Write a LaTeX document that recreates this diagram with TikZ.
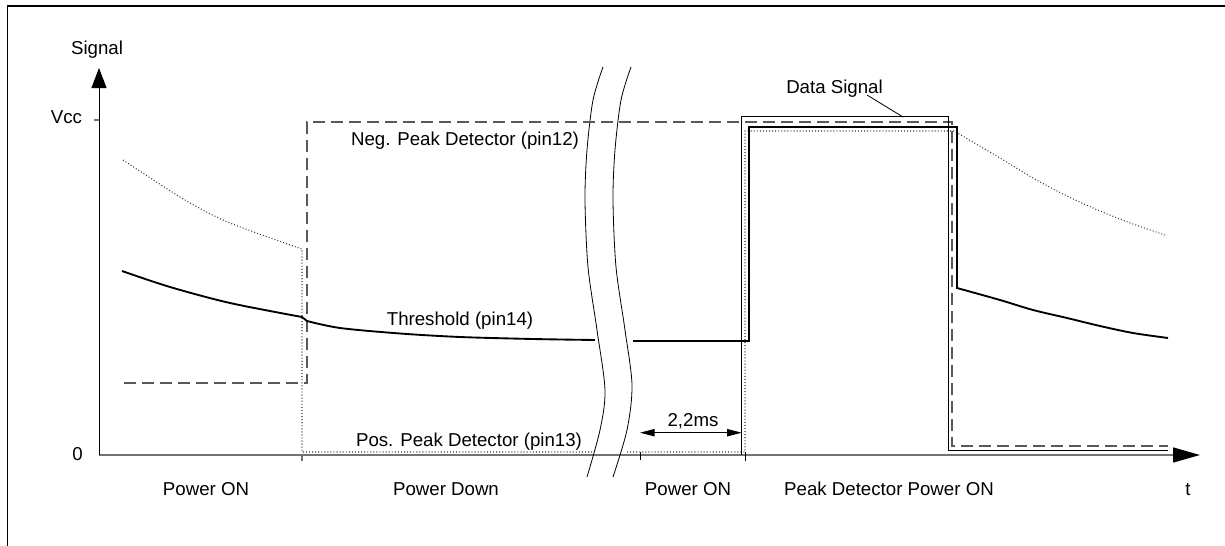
\documentclass[tikz,border=0pt]{standalone}
\usepackage{fontspec}
\setmainfont{Liberation Sans}
\usetikzlibrary{arrows.meta}
\begin{document}
\begin{tikzpicture}[x=0.75pt,y=-0.75pt,
  lbl/.style={font=\fontsize{14}{16}\selectfont, inner sep=0pt, anchor=base},
  thresh/.style={line width=1.4pt, black, line join=miter},
  negpk/.style={line width=0.8pt, color=black!65, dash pattern=on 9pt off 4.5pt},
  pospk/.style={line width=0.8pt, color=black!80, dash pattern=on 0.7pt off 1.6pt},
  datasig/.style={line width=0.6pt, black},
  axisx/.style={line width=1.1pt, color=black!55},
  brk/.style={line width=0.6pt, black},
  tick/.style={line width=0.6pt, black},
  frame/.style={line width=1pt, black}
]
\useasboundingbox (0,0) rectangle (1225,546);
% frame
\draw[frame] (7.5,546) -- (7.5,6) -- (1225,6);

% axes
\coordinate (o) at (99,455);
\coordinate (ytip) at (99,68);
\coordinate (xtip) at (1200,455);
\draw[axisx, -{Triangle[length=20.25pt,width=11.25pt,black]}] (o) -- (xtip);
\draw[line width=0.75pt, -{Triangle[length=15pt,width=11.25pt]}] (o) -- (ytip);
\draw[axisx, line width=0.8pt] (94,120) -- (99,120);

% ticks
\draw[axisx, line width=0.8pt] (302,455) -- (302,461);
\draw[tick] (640,452) -- (640,460);
\draw[tick] (745,452) -- (745,461);

% axis labels
\node[lbl] (sig) at (97,55) {Signal};
\node[lbl] (vcc) at (66.5,123) {Vcc};
\node[lbl] (zero) at (77.5,460) {0};
\node[lbl] (t) at (1188,495) {t};

% phase labels
\node[lbl] (p1) at (206,495) {Power ON};
\node[lbl] (p2) at (446,495) {Power Down};
\node[lbl] (p3) at (688,495) {Power ON};
\node[lbl] (p4) at (889,495) {Peak Detector Power ON};

% break lines
\draw[brk] plot[smooth] coordinates {(603,67) (593,100) (587,150) (585,200) (588,267) (597,330) (605,390) (600,430) (587,477)};
\draw[brk] plot[smooth] coordinates {(631,67) (621,100) (615,150) (613,200) (616,267) (625,330) (632,385) (627,430) (613,477)};

% positive peak detector (dotted)
\draw[pospk] plot[smooth] coordinates {(123,160) (185,200) (230,223) (302,249)} -- (302,452) -- (593,452);
\draw[pospk] (627,452) -- (745,452) -- (745,131) -- (954,131) -- plot[smooth] coordinates {(954,131) (1000,158) (1033,178) (1067,196) (1100,211) (1133,224) (1165,235)};

% negative peak detector (dashed)
\draw[negpk] (124,383) -- (307,383) -- (307,122) -- (952,122) -- (952,446) -- (1168,446);

% data signal
\draw[datasig] (741.7,455) -- (741.7,116.7) -- (948.3,116.7) -- (948.3,450) -- (1168,450);

% threshold
\draw[thresh] plot[smooth] coordinates {(122,271) (170,287) (230,303) (302,317)} -- (307,321) -- plot[smooth] coordinates {(307,321) (340,328) (400,333.5) (460,337) (533,339) (595,340)};
\draw[thresh] (633,341) -- (749,341) -- (749,127) -- (957,127) -- (957,288) -- plot[smooth] coordinates {(957,288) (1000,300) (1033,310) (1067,318) (1100,326) (1133,333) (1168,338)};

% curve labels
\node[lbl] (neg) at (465,145) {Neg. Peak Detector (pin12)};
\node[lbl] (thr) at (460,325) {Threshold (pin14)};
\node[lbl] (pos) at (469,446.7) {Pos. Peak Detector (pin13)};
\node[lbl] (ds) at (834.5,93.3) {Data Signal};
\coordinate (dsa) at (867,95);
\coordinate (dsb) at (903,117);
\draw[datasig] (dsa) -- (dsb);

% 2,2ms dimension
\node[lbl] (dim) at (693,426) {2,2ms};
\coordinate (dl) at (640,432.7);
\coordinate (dr) at (741.7,432.7);
\draw[line width=0.7pt, {Triangle[length=11pt,width=5.5pt]}-{Triangle[length=11pt,width=5.5pt]}] (dl) -- (dr);
\end{tikzpicture}
\end{document}
